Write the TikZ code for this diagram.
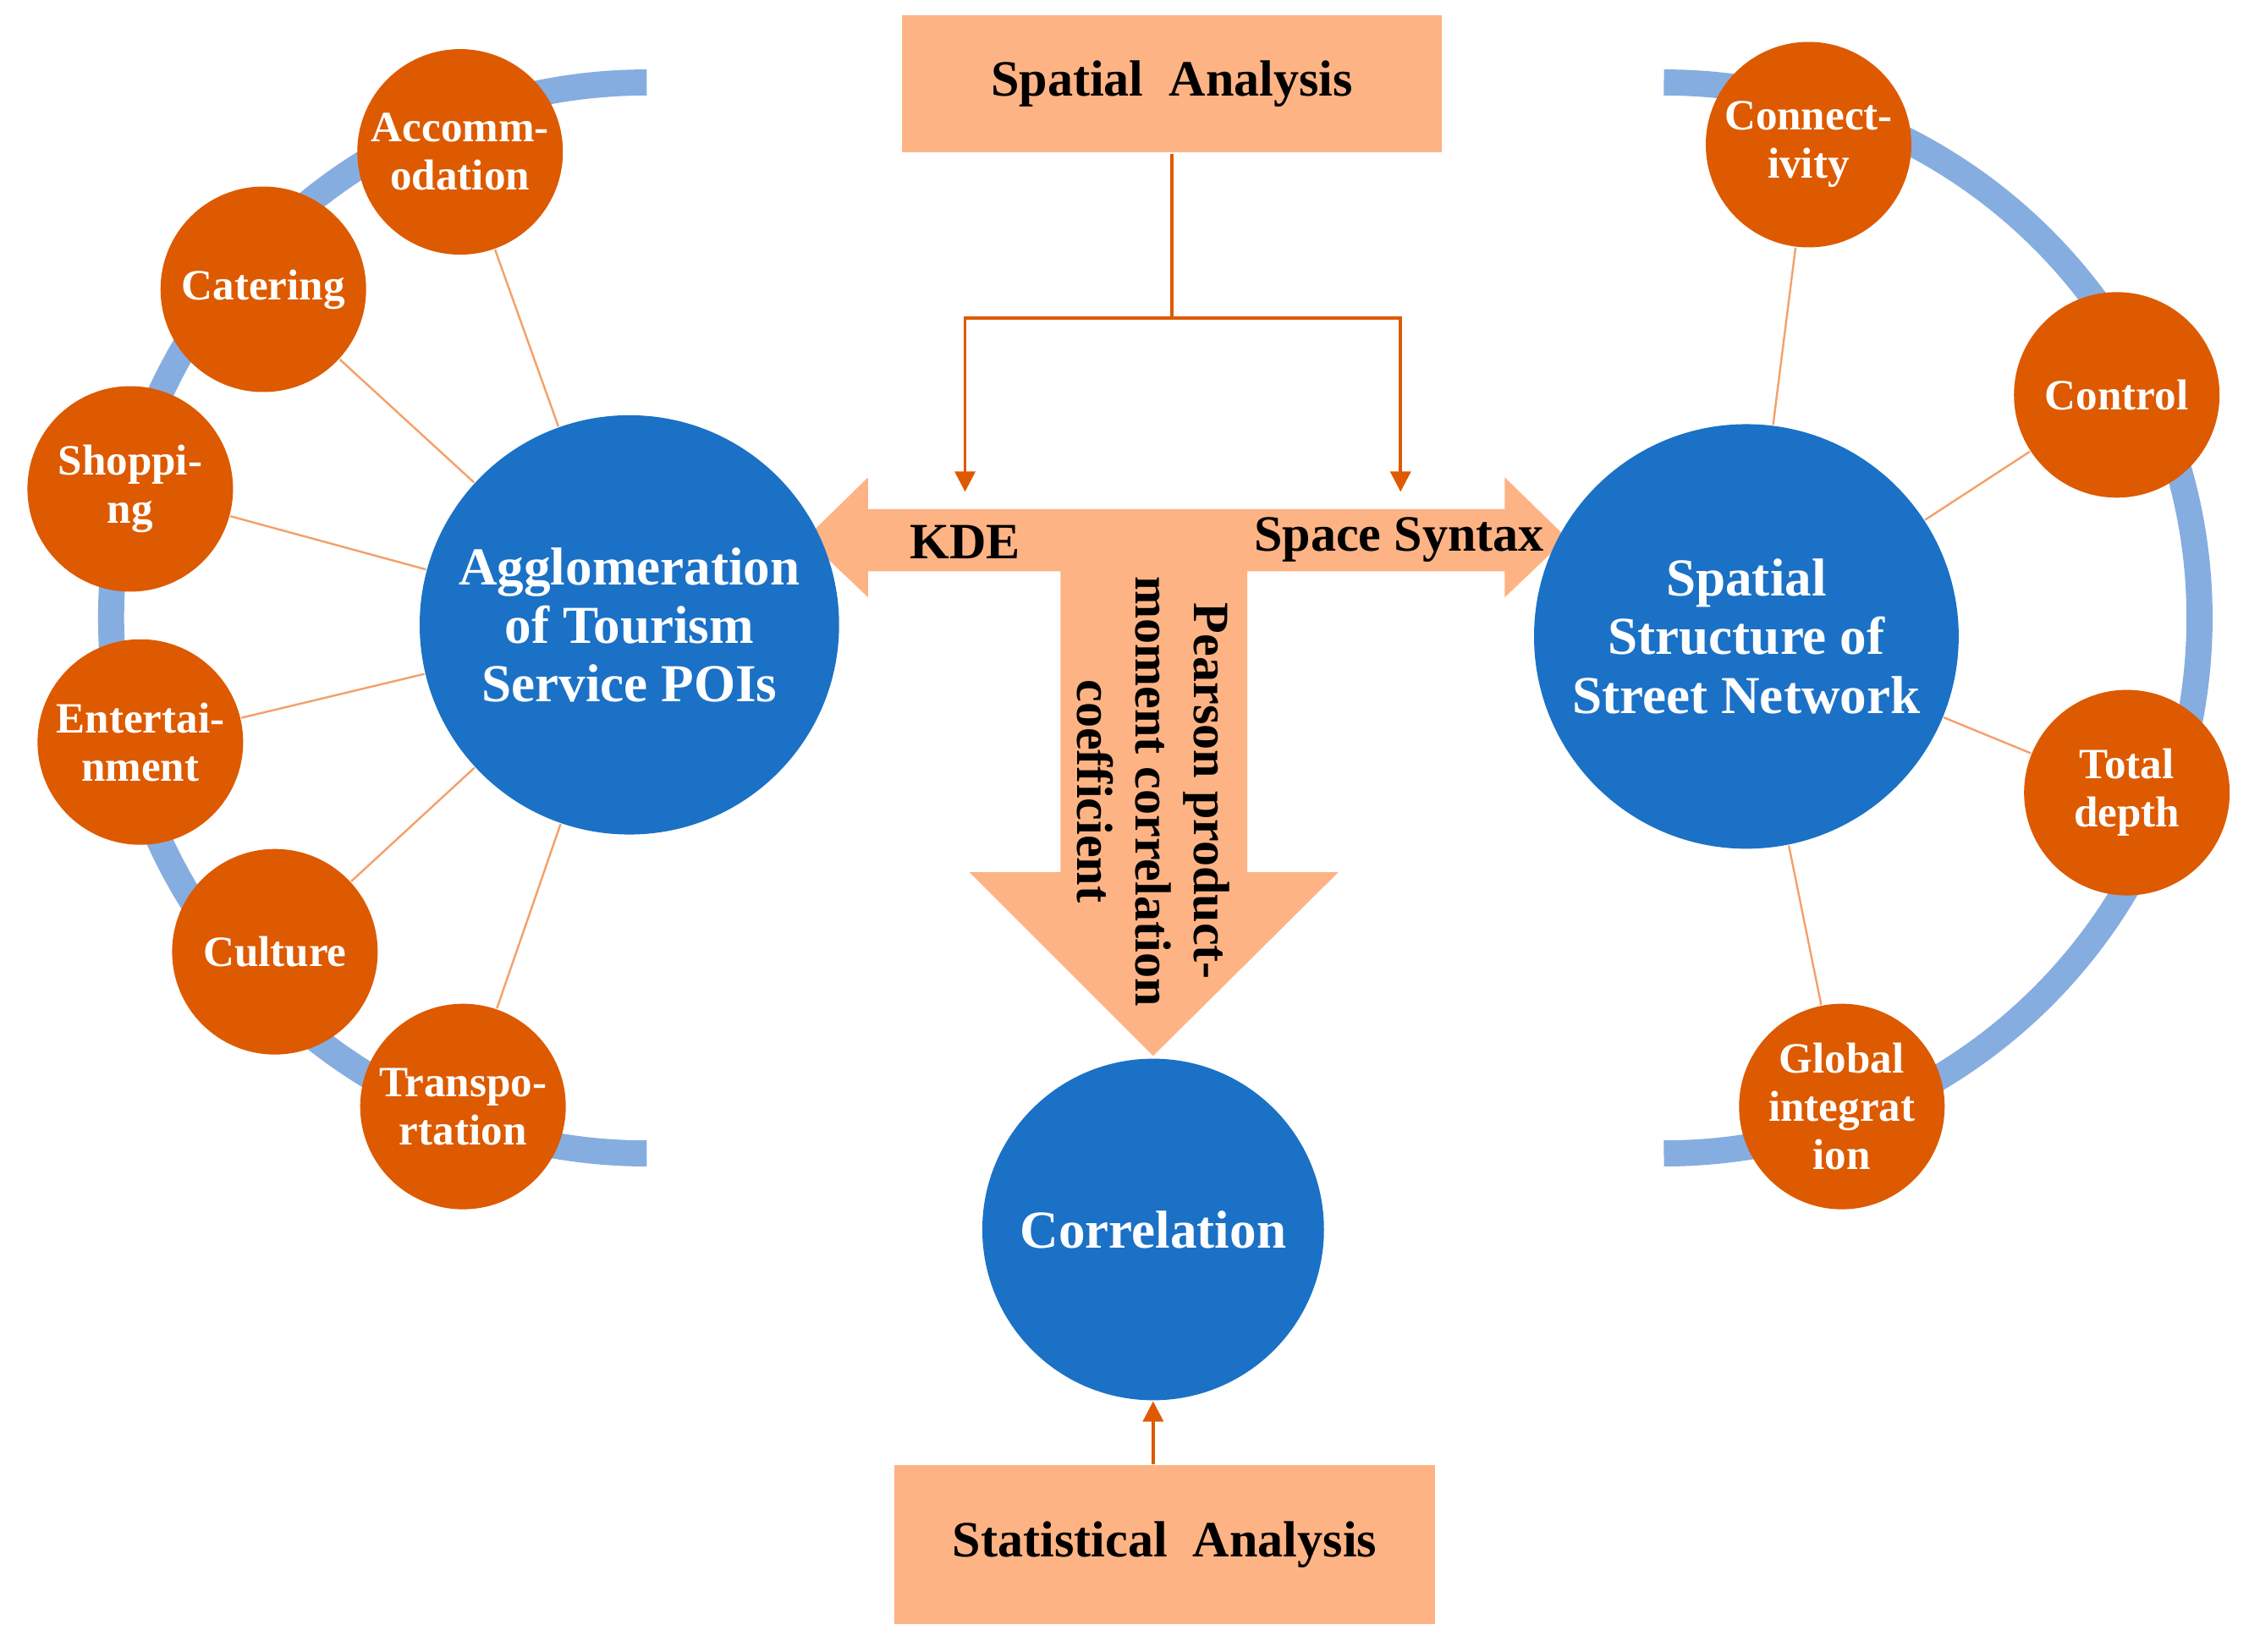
\documentclass[tikz,border=0pt]{standalone}
\usepackage{fontspec}
\setmainfont{Liberation Serif}
\usetikzlibrary{arrows.meta}
\definecolor{boxfill}{HTML}{FDB384}
\definecolor{poiblue}{HTML}{1B71C6}
\definecolor{arcblue}{HTML}{86ADE0}
\definecolor{dotorange}{HTML}{DD5A00}
\definecolor{lineorange}{HTML}{F4A06A}
\tikzset{
  box/.style={draw=none, fill=boxfill, minimum width=3.73cm, minimum height=0.95cm, font=\bfseries\fontsize{10}{12}\selectfont},
  bigc/.style={circle, fill=poiblue, text=white, minimum size=2.7cm, align=center, font=\bfseries\fontsize{10.5}{11.5}\selectfont},
  smallc/.style={circle, fill=dotorange, text=white, minimum size=1.42cm, inner sep=0pt, align=center, font=\bfseries\fontsize{8.5}{9.5}\selectfont},
  spoke/.style={lineorange, line width=0.4pt},
  flow/.style={dotorange, line width=0.6pt, -{Triangle[length=4pt,width=4pt]}}
}
\begin{document}
\begin{tikzpicture}[x=0.01cm,y=-0.01cm]
      \useasboundingbox (0,0) rectangle (1562,1142);

      % arcs behind the circles
      \draw[arcblue, line width=0.18cm] (447,57) arc [start angle=90, end angle=270, radius=3.7cm];
      \draw[arcblue, line width=0.18cm] (1150,57) arc [start angle=90, end angle=-90, radius=3.7cm];

      % T arrow
      \fill[boxfill] (557,372) -- (600,330) -- (600,352) -- (1040,352) -- (1040,330) -- (1083,372)
        -- (1040,413) -- (1040,395) -- (862,395) -- (862,603) -- (925,603) -- (797,730)
        -- (670,603) -- (733,603) -- (733,395) -- (600,395) -- (600,413) -- cycle;
      \node[font=\bfseries\fontsize{10}{12}\selectfont] (kde) at (667,375) {KDE};
      \node[font=\bfseries\fontsize{10}{12}\selectfont] (syn) at (967,373) {Space Syntax};
      \node[rotate=-90, align=center, font=\bfseries\fontsize{10}{11.5}\selectfont] (prs) at (797,547)
        {Pearson product-\\moment correlation\\coefficient};

      \node[box] (spa) at (810,58) {Spatial\ \ Analysis};
      \node[box, minimum height=1.1cm] (sta) at (805,1068) {Statistical\ \ Analysis};

      \node[bigc] (poi) at (435,432) {Agglomeration\\of Tourism\\Service POIs};
      \node[bigc] (net) at (1207,440) {Spatial\\Structure of\\Street Network};
      \node[bigc, minimum size=2.36cm] (cor) at (797,850) {Correlation};

      \node[smallc] (acc) at (318,105) {Accomm-\\odation};
      \node[smallc] (cat) at (182,200) {Catering};
      \node[smallc] (sho) at (90,338) {Shoppi-\\ng};
      \node[smallc] (ent) at (97,513) {Entertai-\\nment};
      \node[smallc] (cul) at (190,658) {Culture};
      \node[smallc] (tra) at (320,765) {Transpo-\\rtation};

      \node[smallc] (con) at (1250,100) {Connect-\\ivity};
      \node[smallc] (ctl) at (1463,273) {Control};
      \node[smallc] (dep) at (1470,548) {Total\\depth};
      \node[smallc] (glo) at (1273,765) {Global\\integrat\\ion};

      \foreach \s in {acc,cat,sho,ent,cul,tra}
        \draw[spoke] (\s) -- (poi);
      \foreach \s in {con,ctl,dep,glo}
        \draw[spoke] (\s) -- (net);

      % analysis arrows
      \coordinate (split) at (810,220);
      \coordinate (kdetop) at (667,340);
      \coordinate (syntop) at (968,340);
      \draw[dotorange, line width=0.6pt] (spa) -- (split);
      \draw[flow] (split) -| (kdetop);
      \draw[flow] (split) -| (syntop);
      \draw[flow] (sta.north -| cor) -- (cor);
\end{tikzpicture}
\end{document}
